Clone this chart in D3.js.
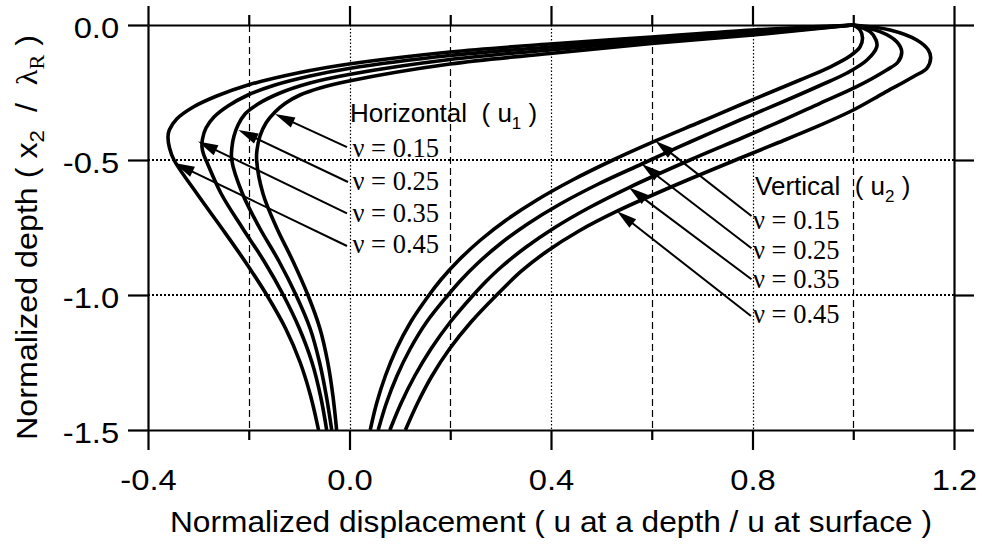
<!DOCTYPE html>
<html><head><meta charset="utf-8">
<script src="https://cdn.jsdelivr.net/npm/d3@7"></script>
<style>
html,body{margin:0;padding:0;background:#fff;}
svg{display:block;}
text{white-space:pre;}
</style></head>
<body>
<svg id="chart" width="982" height="546"></svg>
<script>
// ---------- DATA (displacement, depth) ----------
const poissonLabels = ["\u03bd = 0.15", "\u03bd = 0.25", "\u03bd = 0.35", "\u03bd = 0.45"];

// Horizontal displacement u1
const u1_nu015 = [[1.0,0],[0.801,-0.037],[0.600,-0.0685],[0.398,-0.1056],[0.1995,-0.1444],[-0.001,-0.2074],[-0.0586,-0.2333],[-0.0983,-0.2593],[-0.128,-0.2907],[-0.1479,-0.3222],[-0.1658,-0.363],[-0.1777,-0.4111],[-0.1836,-0.463],[-0.1844,-0.5],[-0.1717,-0.625],[-0.1449,-0.75],[-0.1122,-0.875],[-0.0826,-1.0],[-0.0586,-1.125],[-0.0431,-1.25],[-0.0328,-1.375],[-0.0256,-1.5]];
const u1_nu025 = [[1.0,0],[0.801,-0.0315],[0.600,-0.0593],[0.398,-0.0926],[0.1995,-0.1278],[-0.001,-0.1833],[-0.0784,-0.2148],[-0.138,-0.2519],[-0.1816,-0.2926],[-0.2074,-0.3296],[-0.2213,-0.3704],[-0.2293,-0.4111],[-0.2333,-0.4519],[-0.2338,-0.5],[-0.2124,-0.625],[-0.1789,-0.75],[-0.14,-0.875],[-0.1062,-1.0],[-0.078,-1.125],[-0.0594,-1.25],[-0.0459,-1.375],[-0.0353,-1.5]];
const u1_nu035 = [[1.0,0],[0.801,-0.0259],[0.600,-0.0519],[0.398,-0.0815],[0.1995,-0.113],[-0.001,-0.1611],[-0.0784,-0.1889],[-0.1479,-0.2222],[-0.2015,-0.2593],[-0.2412,-0.3],[-0.269,-0.3407],[-0.2849,-0.3815],[-0.2918,-0.4222],[-0.2928,-0.4519],[-0.2898,-0.4778],[-0.2849,-0.5],[-0.2547,-0.625],[-0.2132,-0.75],[-0.1695,-0.875],[-0.1314,-1.0],[-0.0993,-1.125],[-0.0744,-1.25],[-0.0574,-1.375],[-0.0453,-1.5]];
const u1_nu045 = [[1.0,0],[0.801,-0.0185],[0.600,-0.0444],[0.398,-0.0704],[0.1995,-0.1],[-0.001,-0.1444],[-0.0983,-0.1759],[-0.2015,-0.2222],[-0.2636,-0.263],[-0.3101,-0.3037],[-0.343,-0.3481],[-0.3577,-0.3889],[-0.3603,-0.4148],[-0.3573,-0.4556],[-0.3484,-0.5],[-0.3027,-0.625],[-0.2545,-0.75],[-0.2076,-0.875],[-0.1642,-1.0],[-0.1266,-1.125],[-0.0979,-1.25],[-0.077,-1.375],[-0.0615,-1.5]];

// Vertical displacement u2
const u2_nu015 = [[1.0,0],[1.0134,-0.0185],[1.0184,-0.0481],[1.0134,-0.0815],[0.9935,-0.1148],[0.9538,-0.1556],[0.8943,-0.2037],[0.8347,-0.25],[0.7752,-0.2963],[0.6958,-0.3593],[0.6084,-0.4285],[0.5231,-0.5],[0.4427,-0.5741],[0.372,-0.6481],[0.3113,-0.7222],[0.2602,-0.7963],[0.2172,-0.8704],[0.181,-0.9444],[0.158,-1.0],[0.1215,-1.1],[0.0931,-1.2],[0.0711,-1.3],[0.054,-1.4],[0.0411,-1.5]];
const u2_nu025 = [[1.0,0],[1.0333,-0.0248],[1.0452,-0.0556],[1.0466,-0.0815],[1.0273,-0.1296],[0.9876,-0.1778],[0.934,-0.2241],[0.8685,-0.2778],[0.7752,-0.3519],[0.6759,-0.4333],[0.5801,-0.5148],[0.4941,-0.5889],[0.4183,-0.663],[0.3535,-0.737],[0.2988,-0.8111],[0.2529,-0.8852],[0.2215,-0.9444],[0.1957,-1.0],[0.1531,-1.1],[0.1203,-1.2],[0.0941,-1.3],[0.0733,-1.4],[0.057,-1.5]];
const u2_nu035 = [[1.0,0],[1.0531,-0.0248],[1.0863,-0.0619],[1.0962,-0.0989],[1.0888,-0.137],[1.0664,-0.1667],[1.0068,-0.2285],[0.934,-0.29],[0.8611,-0.3519],[0.7811,-0.4167],[0.6759,-0.5],[0.5548,-0.6019],[0.4762,-0.6759],[0.4077,-0.75],[0.3494,-0.8241],[0.3001,-0.8981],[0.2698,-0.9519],[0.2458,-1.0],[0.2001,-1.1],[0.1616,-1.2],[0.1294,-1.3],[0.1026,-1.4],[0.0802,-1.5]];
const u2_nu045 = [[1.0,0],[1.073,-0.0185],[1.126,-0.0556],[1.149,-0.0926],[1.1537,-0.1222],[1.1464,-0.1593],[1.1192,-0.1915],[1.0597,-0.253],[1.0001,-0.3148],[0.9274,-0.3767],[0.848,-0.4381],[0.7811,-0.4889],[0.6521,-0.5889],[0.531,-0.6896],[0.4546,-0.7637],[0.3921,-0.8378],[0.341,-0.9119],[0.2922,-1.0],[0.2413,-1.1],[0.1984,-1.2],[0.1636,-1.3],[0.1352,-1.4],[0.111,-1.5]];

// Annotation anchors (data units): [tailX, tailY, tipX, tipY]
const u1Arrows = [[-0.005,-0.452,-0.148,-0.330],[-0.003,-0.5815,-0.2207,-0.3889],[-0.005,-0.6974,-0.3007,-0.4315],[-0.005,-0.8185,-0.3474,-0.5111]];
const u2Arrows = [[0.798,-0.7074,0.6074,-0.4296],[0.798,-0.827,0.5801,-0.5148],[0.798,-0.9419,0.5548,-0.6019],[0.797,-1.0778,0.531,-0.6896]];
const u1LabelPos = [[0.006,-0.4889],[0.006,-0.6111],[0.006,-0.7296],[0.006,-0.8444]];
const u2LabelPos = [[0.801,-0.7556],[0.801,-0.8667],[0.801,-0.974],[0.801,-1.1037]];
const u1TitlePos = [0.001,-0.358];
const u2TitlePos = [0.805,-0.6296];

// Ticks / grid
const xMajorTicks = [-0.4, 0.0, 0.4, 0.8, 1.2];
const xMinorTicks = [-0.2, 0.2, 0.6, 1.0];
const yTicks = [0.0, -0.5, -1.0, -1.5];
const xDottedGrid = [0.0, 0.4, 0.8];
const xDashedGrid = [-0.2, 0.2, 0.6, 1.0];
const yDottedGrid = [-0.5, -1.0];

// ---------- DRAWING ----------
const SANS = "'Liberation Sans', Arial, Helvetica, sans-serif";
const SERIF = "'Liberation Serif', 'Times New Roman', Times, serif";
const STRETCH = 1.13;

const svg = d3.select("#chart");
svg.append("rect").attr("width",982).attr("height",546).attr("fill","#fff");

const x = d3.scaleLinear().domain([-0.4, 1.2]).range([148, 954]);
const y = d3.scaleLinear().domain([0, -1.5]).range([25, 430]);

// grid
const grid = svg.append("g");
grid.selectAll("line.vdot").data(xDottedGrid).join("line")
  .attr("x1", d => Math.round(x(d)) + 0.5).attr("x2", d => Math.round(x(d)) + 0.5)
  .attr("y1", y(0)).attr("y2", y(-1.5))
  .attr("stroke", "#000").attr("stroke-width", 1.2).attr("stroke-dasharray", "1.5,2");
grid.selectAll("line.vdash").data(xDashedGrid).join("line")
  .attr("x1", d => Math.round(x(d)) + 0.5).attr("x2", d => Math.round(x(d)) + 0.5)
  .attr("y1", y(0)).attr("y2", y(-1.5))
  .attr("stroke", "#000").attr("stroke-width", 1.2).attr("stroke-dasharray", "7,4");
grid.selectAll("line.hdot").data(yDottedGrid).join("line")
  .attr("x1", x(-0.4)).attr("x2", x(1.2))
  .attr("y1", d => y(d)).attr("y2", d => y(d))
  .attr("stroke", "#000").attr("stroke-width", 2.2).attr("stroke-dasharray", "2,2");

// curves
const line = d3.line().x(d => x(d[0])).y(d => y(d[1])).curve(d3.curveCatmullRom.alpha(0.5));
const curves = [u1_nu015, u1_nu025, u1_nu035, u1_nu045, u2_nu015, u2_nu025, u2_nu035, u2_nu045];
svg.append("g").selectAll("path").data(curves).join("path")
  .attr("d", line).attr("fill", "none").attr("stroke", "#000")
  .attr("stroke-width", 3.6).attr("stroke-linejoin", "round");

// arrows
function drawArrows(g, arr) {
  arr.forEach(a => {
    const x1 = x(a[0]), y1 = y(a[1]), x2 = x(a[2]), y2 = y(a[3]);
    const L = Math.hypot(x2 - x1, y2 - y1), ux = (x2 - x1) / L, uy = (y2 - y1) / L;
    const hl = 20, hw = 5.5;
    g.append("line").attr("x1", x1).attr("y1", y1)
      .attr("x2", x2 - ux * hl * 0.7).attr("y2", y2 - uy * hl * 0.7)
      .attr("stroke", "#000").attr("stroke-width", 2);
    g.append("path")
      .attr("d", `M${x2},${y2}L${x2 - ux * hl - uy * hw},${y2 - uy * hl + ux * hw}L${x2 - ux * hl + uy * hw},${y2 - uy * hl - ux * hw}Z`)
      .attr("fill", "#000");
  });
}
const ag = svg.append("g");
drawArrows(ag, u1Arrows);
drawArrows(ag, u2Arrows);

// nu labels
const lg = svg.append("g").attr("font-family", SERIF).attr("font-size", 26.5).attr("fill", "#000");
lg.selectAll("text.h").data(u1LabelPos).join("text")
  .attr("x", d => x(d[0])).attr("y", d => y(d[1])).text((d, i) => poissonLabels[i]);
lg.selectAll("text.v").data(u2LabelPos).join("text")
  .attr("x", d => x(d[0])).attr("y", d => y(d[1])).text((d, i) => poissonLabels[i]);

function seriesTitle(pos, main, sub) {
  const t = svg.append("text").attr("x", x(pos[0])).attr("y", y(pos[1]))
    .attr("font-family", SANS).attr("font-size", 26).attr("fill", "#000");
  t.append("tspan").text(main + "  ( u");
  t.append("tspan").attr("font-size", 17).attr("dy", 7).text(sub);
  t.append("tspan").attr("dy", -7).text(" )");
}
seriesTitle(u1TitlePos, "Horizontal", "1");
seriesTitle(u2TitlePos, "Vertical", "2");

// axes
const fmt = d => d.toFixed(1);
function styleAxis(g) {
  g.select(".domain").attr("stroke-width", 2.2);
  g.selectAll(".tick line").attr("stroke-width", 2.2);
  g.selectAll("text").attr("font-family", SANS).attr("font-size", 29).attr("fill", "#000");
}
const axB = svg.append("g").attr("transform", `translate(0,${y(-1.5)})`)
  .call(d3.axisBottom(x).tickValues(xMajorTicks).tickSize(20).tickSizeOuter(0).tickPadding(19.4).tickFormat(fmt));
styleAxis(axB);
axB.selectAll("text").attr("transform", `scale(${STRETCH},1)`);
const axBm = svg.append("g").attr("transform", `translate(0,${y(-1.5)})`)
  .call(d3.axisBottom(x).tickValues(xMinorTicks).tickSize(10).tickSizeOuter(0).tickFormat(""));
styleAxis(axBm); axBm.select(".domain").remove();

const axT = svg.append("g").attr("transform", `translate(0,${y(0)})`)
  .call(d3.axisTop(x).tickValues(xMajorTicks).tickSize(19).tickSizeOuter(0).tickFormat(""));
styleAxis(axT);
const axTm = svg.append("g").attr("transform", `translate(0,${y(0)})`)
  .call(d3.axisTop(x).tickValues(xMinorTicks).tickSize(10).tickSizeOuter(0).tickFormat(""));
styleAxis(axTm); axTm.select(".domain").remove();

const axL = svg.append("g").attr("transform", `translate(${x(-0.4)},0)`)
  .call(d3.axisLeft(y).tickValues(yTicks).tickSize(20).tickSizeOuter(0).tickPadding(5.5).tickFormat(fmt));
styleAxis(axL);
axL.selectAll("text").attr("dy", "0.43em").attr("transform", `scale(${STRETCH},1)`);

const axR = svg.append("g").attr("transform", `translate(${x(1.2)},0)`)
  .call(d3.axisRight(y).tickValues(yTicks).tickSize(20).tickSizeOuter(0).tickFormat(""));
styleAxis(axR);

// axis titles
svg.append("text")
  .attr("x", (x(-0.4) + x(1.2)) / 2).attr("y", 532)
  .attr("text-anchor", "middle").attr("font-family", SANS).attr("font-size", 29)
  .attr("textLength", 762).attr("lengthAdjust", "spacingAndGlyphs")
  .text("Normalized displacement ( u at a depth / u at surface )");

const yt = svg.append("text")
  .attr("transform", `translate(37,237.5) rotate(-90)`)
  .attr("text-anchor", "middle").attr("font-family", SANS).attr("font-size", 29)
  .attr("textLength", 405).attr("lengthAdjust", "spacingAndGlyphs");
yt.append("tspan").text("Normalized depth ( x");
yt.append("tspan").attr("font-size", 20).attr("dy", 7).text("2");
yt.append("tspan").attr("dy", -7).text("  /  ");
yt.append("tspan").attr("font-family", SERIF).text("\u03bb");
yt.append("tspan").attr("font-family", SERIF).attr("font-size", 20).attr("dy", 7).text("R");
yt.append("tspan").attr("dy", -7).text(" )");
</script>
</body></html>
